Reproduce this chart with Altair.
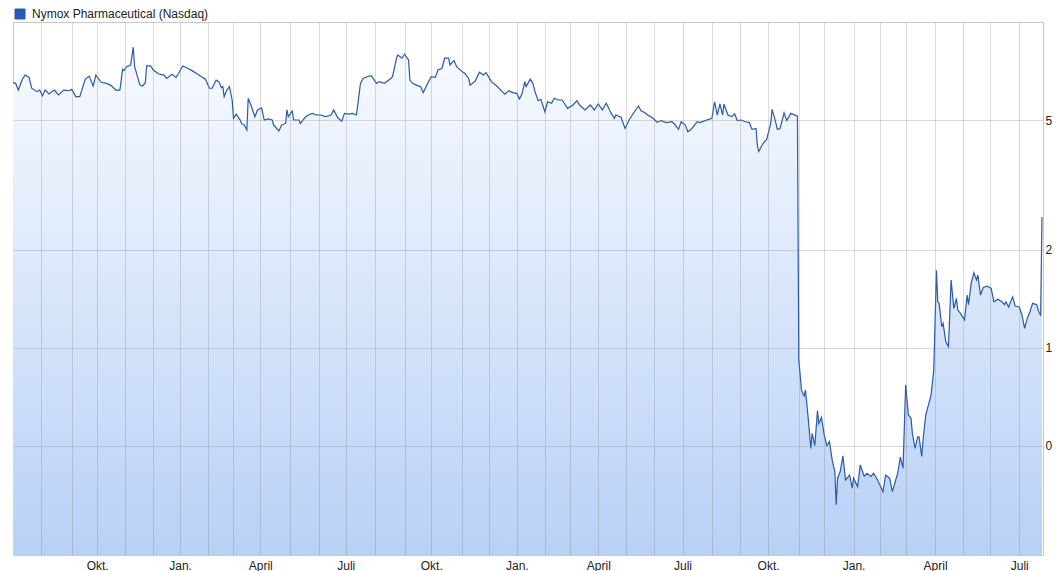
import altair as alt
import numpy as np
import pandas as pd

SERIES = "Nymox Pharmaceutical (Nasdaq)"

dates = [
    "2012-07-02", "2012-07-05", "2012-07-09", "2012-07-12", "2012-07-16", "2012-07-19", "2012-07-23", "2012-07-27",
    "2012-07-31", "2012-08-02", "2012-08-06", "2012-08-09", "2012-08-13", "2012-08-15", "2012-08-20", "2012-08-24",
    "2012-08-30", "2012-09-04", "2012-09-07", "2012-09-12", "2012-09-18", "2012-09-21", "2012-09-26", "2012-09-28",
    "2012-10-04", "2012-10-10", "2012-10-15", "2012-10-19", "2012-10-24", "2012-10-26", "2012-10-31", "2012-11-02",
    "2012-11-07", "2012-11-09", "2012-11-12", "2012-11-16", "2012-11-20", "2012-11-23", "2012-11-26", "2012-11-29",
    "2012-12-03", "2012-12-07", "2012-12-13", "2012-12-17", "2012-12-21", "2012-12-27", "2012-12-31", "2013-01-04",
    "2013-01-09", "2013-01-15", "2013-01-22", "2013-01-25", "2013-01-30", "2013-02-04", "2013-02-06", "2013-02-11",
    "2013-02-13", "2013-02-15", "2013-02-19", "2013-02-20", "2013-02-22", "2013-02-26", "2013-02-28", "2013-03-01",
    "2013-03-05", "2013-03-08", "2013-03-11", "2013-03-13", "2013-03-15", "2013-03-18", "2013-03-20", "2013-03-25",
    "2013-03-27", "2013-04-02", "2013-04-04", "2013-04-09", "2013-04-12", "2013-04-15", "2013-04-19", "2013-04-23",
    "2013-04-26", "2013-04-29", "2013-04-30", "2013-05-03", "2013-05-06", "2013-05-10", "2013-05-13", "2013-05-17",
    "2013-05-21", "2013-05-24", "2013-05-30", "2013-06-04", "2013-06-10", "2013-06-14", "2013-06-18", "2013-06-21",
    "2013-06-26", "2013-06-28", "2013-07-03", "2013-07-09", "2013-07-12", "2013-07-17", "2013-07-19", "2013-07-24",
    "2013-07-29", "2013-08-02", "2013-08-06", "2013-08-12", "2013-08-16", "2013-08-20", "2013-08-23", "2013-08-26",
    "2013-08-29", "2013-09-03", "2013-09-06", "2013-09-09", "2013-09-11", "2013-09-16", "2013-09-19", "2013-09-23",
    "2013-09-27", "2013-10-01", "2013-10-04", "2013-10-08", "2013-10-11", "2013-10-15", "2013-10-18", "2013-10-21",
    "2013-10-24", "2013-10-28", "2013-11-01", "2013-11-05", "2013-11-08", "2013-11-11", "2013-11-15", "2013-11-20",
    "2013-11-25", "2013-11-27", "2013-12-04", "2013-12-10", "2013-12-13", "2013-12-18", "2013-12-23", "2013-12-27",
    "2014-01-02", "2014-01-06", "2014-01-08", "2014-01-10", "2014-01-13", "2014-01-16", "2014-01-21", "2014-01-23",
    "2014-01-27", "2014-01-29", "2014-02-03", "2014-02-05", "2014-02-10", "2014-02-12", "2014-02-18", "2014-02-21",
    "2014-02-27", "2014-03-05", "2014-03-10", "2014-03-12", "2014-03-18", "2014-03-24", "2014-03-27", "2014-04-01",
    "2014-04-04", "2014-04-09", "2014-04-14", "2014-04-17", "2014-04-21", "2014-04-25", "2014-04-30", "2014-05-05",
    "2014-05-09", "2014-05-14", "2014-05-16", "2014-05-21", "2014-05-23", "2014-05-30", "2014-06-04", "2014-06-09",
    "2014-06-13", "2014-06-19", "2014-06-23", "2014-06-26", "2014-06-30", "2014-07-03", "2014-07-08", "2014-07-11",
    "2014-07-17", "2014-07-21", "2014-07-25", "2014-08-01", "2014-08-05", "2014-08-07", "2014-08-11", "2014-08-13",
    "2014-08-14", "2014-08-19", "2014-08-22", "2014-08-26", "2014-08-28", "2014-09-03", "2014-09-08", "2014-09-11",
    "2014-09-15", "2014-09-18", "2014-09-19", "2014-09-22", "2014-09-25", "2014-09-30", "2014-10-03", "2014-10-06",
    "2014-10-08", "2014-10-10", "2014-10-14", "2014-10-17", "2014-10-21", "2014-10-24", "2014-10-31", "2014-11-03",
    "2014-11-05", "2014-11-07", "2014-11-10", "2014-11-12", "2014-11-14", "2014-11-17", "2014-11-19", "2014-11-21",
    "2014-11-24", "2014-11-26", "2014-12-01", "2014-12-03", "2014-12-05", "2014-12-09", "2014-12-11", "2014-12-12",
    "2014-12-15", "2014-12-17", "2014-12-19", "2014-12-23", "2014-12-29", "2014-12-31", "2015-01-02", "2015-01-07",
    "2015-01-09", "2015-01-14", "2015-01-16", "2015-01-22", "2015-01-26", "2015-01-29", "2015-02-04", "2015-02-06",
    "2015-02-11", "2015-02-13", "2015-02-20", "2015-02-24", "2015-02-26", "2015-03-02", "2015-03-04", "2015-03-06",
    "2015-03-09", "2015-03-11", "2015-03-13", "2015-03-16", "2015-03-18", "2015-03-19", "2015-03-23", "2015-03-25",
    "2015-03-27", "2015-03-31", "2015-04-02", "2015-04-06", "2015-04-07", "2015-04-09", "2015-04-10", "2015-04-14",
    "2015-04-16", "2015-04-20", "2015-04-22", "2015-04-24", "2015-04-27", "2015-04-29", "2015-05-04", "2015-05-06",
    "2015-05-07", "2015-05-11", "2015-05-13", "2015-05-15", "2015-05-18", "2015-05-20", "2015-05-22", "2015-05-28",
    "2015-06-02", "2015-06-04", "2015-06-09", "2015-06-12", "2015-06-16", "2015-06-17", "2015-06-19", "2015-06-24",
    "2015-06-26", "2015-07-01", "2015-07-06", "2015-07-08", "2015-07-10", "2015-07-14", "2015-07-16", "2015-07-21",
    "2015-07-23", "2015-07-24", "2015-07-27",
]

prices = [
    6.51, 6.48, 6.18, 6.67, 6.87, 6.76, 6.26, 6.11,
    6.18, 5.93, 6.18, 6.01, 6.11, 6.18, 5.97, 6.18,
    6.15, 6.21, 5.90, 5.90, 6.67, 6.82, 6.36, 6.87,
    6.53, 6.48, 6.40, 6.18, 6.18, 7.16, 7.09, 7.29,
    7.38, 8.36, 7.29, 6.40, 6.36, 6.51, 7.33, 7.33,
    7.12, 6.92, 6.87, 6.71, 6.91, 6.76, 6.96, 7.33,
    7.24, 7.09, 6.92, 6.79, 6.67, 6.26, 6.26, 6.63,
    6.56, 6.28, 6.33, 5.90, 6.18, 6.33, 5.76, 5.06,
    5.21, 5.00, 4.88, 4.83, 4.66, 5.83, 5.56, 5.12,
    5.37, 5.45, 5.00, 5.04, 5.00, 4.83, 4.63, 4.83,
    4.88, 5.37, 5.12, 5.33, 5.00, 5.00, 4.88, 5.12,
    5.18, 5.24, 5.18, 5.18, 5.12, 5.18, 5.37, 5.08,
    4.96, 5.24, 5.21, 5.24, 5.18, 6.48, 6.71, 6.79,
    6.84, 6.48, 6.56, 6.48, 6.67, 6.79, 7.74, 7.92,
    7.74, 7.96, 7.64, 6.63, 6.48, 6.40, 6.33, 6.07,
    6.56, 6.79, 6.76, 7.12, 7.21, 7.74, 7.74, 7.38,
    7.61, 7.29, 7.04, 6.96, 6.71, 6.40, 6.60, 7.01,
    6.87, 6.99, 6.56, 6.36, 6.18, 6.00, 6.15, 6.07,
    6.04, 5.80, 6.04, 6.56, 6.33, 6.67, 6.48, 6.04,
    5.73, 5.79, 5.30, 5.69, 5.63, 5.83, 5.76, 5.76,
    5.43, 5.56, 5.73, 5.56, 5.37, 5.56, 5.37, 5.60,
    5.37, 5.63, 5.30, 5.06, 5.18, 5.10, 4.71, 5.00,
    5.30, 5.52, 5.34, 5.26, 5.18, 5.06, 4.92, 4.98,
    4.91, 4.94, 4.86, 4.68, 4.94, 4.83, 4.60, 4.71,
    4.94, 4.91, 4.98, 5.06, 5.69, 5.18, 5.60, 5.18,
    5.60, 5.18, 5.12, 5.22, 4.98, 5.00, 4.94, 4.91,
    4.68, 4.71, 4.19, 4.00, 4.22, 4.36, 4.88, 5.39,
    5.06, 4.68, 4.71, 5.26, 4.98, 5.24, 5.14, 0.92,
    0.74, 0.71, 0.74, 0.61, 0.49, 0.545, 0.50, 0.64,
    0.585, 0.61, 0.54, 0.50, 0.514, 0.451, 0.416, 0.329,
    0.397, 0.416, 0.465, 0.392, 0.406, 0.370, 0.397, 0.374,
    0.436, 0.402, 0.411, 0.402, 0.411, 0.392, 0.361, 0.406,
    0.397, 0.361, 0.411, 0.461, 0.426, 0.768, 0.621, 0.607,
    0.545, 0.490, 0.532, 0.532, 0.463, 0.520, 0.621, 0.666,
    0.715, 0.853, 1.728, 1.382, 1.367, 1.159, 1.187, 1.043,
    1.007, 1.612, 1.319, 1.415, 1.304, 1.274, 1.216, 1.449,
    1.354, 1.575, 1.697, 1.612, 1.671, 1.449, 1.530, 1.545,
    1.520, 1.382, 1.407, 1.382, 1.354, 1.382, 1.332, 1.432,
    1.341, 1.332, 1.259, 1.145, 1.231, 1.289, 1.367, 1.354,
    1.274, 1.259, 2.52,
]

# US exchange holidays (the x axis counts trading days)
holidays = [
    "2012-07-04", "2012-09-03", "2012-10-29", "2012-10-30", "2012-11-22", "2012-12-25",
    "2013-01-01", "2013-01-21", "2013-02-18", "2013-03-29", "2013-05-27", "2013-07-04",
    "2013-09-02", "2013-11-28", "2013-12-25",
    "2014-01-01", "2014-01-20", "2014-02-17", "2014-04-18", "2014-05-26", "2014-07-04",
    "2014-09-01", "2014-11-27", "2014-12-25",
    "2015-01-01", "2015-01-19", "2015-02-16", "2015-04-03", "2015-05-25", "2015-07-03",
]

month_names = {1: "Jan.", 4: "April", 7: "Juli", 10: "Okt."}
y_ticks = [0.5, 1, 2, 5]
Y_MIN, Y_MAX = 0.2306, 10

START = np.datetime64("2012-07-02")
HOL = np.array(holidays, dtype="datetime64[D]")


def tidx(d):
    return int(np.busday_count(START, np.datetime64(d, "D"), holidays=HOL))


df = pd.DataFrame({"date": dates, "price": prices})
df["t"] = [tidx(d) for d in dates]
df["series"] = SERIES
df = df.drop_duplicates("t", keep="last")

months = pd.date_range("2012-07-01", "2015-07-01", freq="MS")
grid_vals = [tidx(m.strftime("%Y-%m-%d")) for m in months]
expr = ""
for m, v in zip(months, grid_vals):
    if m.month in month_names:
        expr += f"datum.value == {v} ? '{month_names[m.month]}' : "
expr += "''"

x_max = df["t"].max() + 0.75

FONT = "Liberation Sans"
GRID = dict(grid=True, gridColor="#7a7a7a", gridOpacity=0.27, gridWidth=1)

x_enc = alt.X(
    "t:Q",
    scale=alt.Scale(domain=[0, x_max], nice=False, zero=False),
    axis=alt.Axis(
        values=grid_vals, labelExpr=expr, title=None, ticks=False, tickSize=0, domain=False,
        labelFont=FONT, labelFontSize=12, labelColor="#222222", labelPadding=14,
        labelBaseline="alphabetic", labelOverlap=False, labelFlush=False, zindex=1, **GRID,
    ),
)
y_enc = alt.Y(
    "price:Q",
    scale=alt.Scale(type="log", domain=[Y_MIN, Y_MAX], nice=False),
    axis=alt.Axis(
        orient="right", values=y_ticks, title=None, ticks=False, tickSize=0, domain=False,
        labelExpr="replace(toString(datum.value), '.', ',')",
        labelFont=FONT, labelFontSize=12, labelColor="#222222", labelPadding=2,
        labelBaseline="middle", labelFlush=False, zindex=1, **GRID,
    ),
)

gradient = alt.Gradient(
    gradient="linear",
    stops=[
        alt.GradientStop(color="#f8fafe", offset=0),
        alt.GradientStop(color="#b8d1f7", offset=1),
    ],
    x1=1, x2=1, y1=0, y2=1,
)

area = alt.Chart(df).mark_area(color=gradient).encode(
    x=x_enc, y=y_enc, y2=alt.datum(Y_MIN)
)

line = alt.Chart(df).mark_line(strokeWidth=1.2).encode(
    x=x_enc,
    y=y_enc,
    color=alt.Color(
        "series:N",
        scale=alt.Scale(domain=[SERIES], range=["#2a5aa8"]),
        legend=alt.Legend(
            orient="none", legendX=1, legendY=-14, title=None, padding=0,
            symbolType="square", symbolSize=100, symbolFillColor="#2459b5",
            symbolStrokeWidth=1, labelFont=FONT, labelFontSize=12, labelColor="#222222",
            labelOffset=6, labelLimit=0,
        ),
    ),
)

chart = (
    alt.layer(area, line)
    .properties(
        width=1030, height=533, autosize="none",
        padding={"left": 5, "top": 14, "right": 9, "bottom": 18},
    )
    .configure_view(stroke="#c8c8c8", strokeWidth=1)
)

chart.save("out.html", embed_options={"renderer": "svg", "actions": False})
